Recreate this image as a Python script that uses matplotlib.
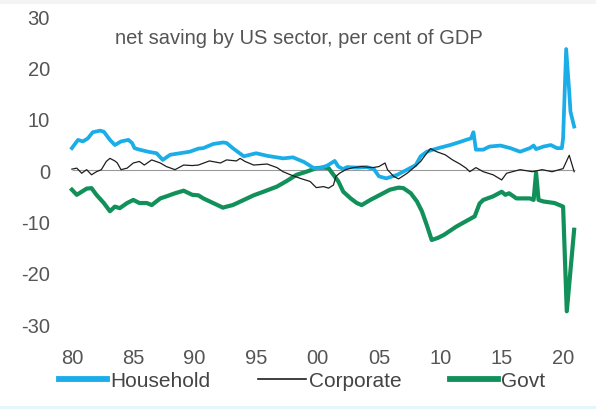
import matplotlib
matplotlib.use("Agg")
import matplotlib.pyplot as plt
from matplotlib.patches import Rectangle

plt.rcParams['font.family'] = ['Liberation Sans', 'DejaVu Sans']
plt.rcParams['axes.unicode_minus'] = False

# Net saving by US sector, per cent of GDP (time in decimal years)
household_t = [1980.0, 1980.5, 1980.9, 1981.3, 1981.7, 1982.3, 1982.6, 1983.1, 1983.5, 1984.0,
               1984.6, 1984.9, 1985.1, 1985.5, 1986.2, 1986.9, 1987.4, 1988.0, 1988.8, 1989.6,
               1990.3, 1990.7, 1991.5, 1992.3, 1992.6, 1993.1, 1994.0, 1995.0, 1995.9, 1997.2,
               1998.0, 1998.9, 1999.7, 2000.2, 2000.8, 2001.4, 2001.7, 2002.1, 2002.4, 2003.2,
               2004.0, 2004.6, 2005.0, 2005.6, 2006.5, 2007.3, 2008.0, 2008.4, 2008.9, 2009.4,
               2010.0, 2010.8, 2011.6, 2012.1, 2012.5, 2012.7, 2012.9, 2013.5, 2014.0, 2014.9,
               2015.7, 2016.5, 2017.3, 2017.6, 2017.8, 2018.4, 2019.0, 2019.5, 2019.9, 2020.0,
               2020.25, 2020.5, 2020.6, 2020.9]
household = [4.3, 5.9, 5.6, 6.2, 7.4, 7.7, 7.5, 5.9, 4.9, 5.6,
             5.9, 5.3, 4.3, 4.0, 3.6, 3.3, 2.0, 3.0, 3.3, 3.6,
             4.2, 4.3, 5.1, 5.4, 5.3, 4.3, 2.7, 3.3, 2.8, 2.3,
             2.5, 1.6, 0.4, 0.4, 0.9, 1.8, 0.7, 0.2, 0.6, 0.5,
             0.6, 0.2, -1.2, -1.6, -0.9, 0.1, 1.0, 2.7, 3.6, 4.0,
             4.4, 4.9, 5.5, 5.9, 6.2, 7.4, 4.0, 4.0, 4.6, 4.8,
             4.3, 3.6, 4.3, 4.8, 4.1, 4.6, 4.9, 4.3, 4.3, 6.2,
             23.6, 15.3, 11.4, 8.5]

corporate_t = [1980.0, 1980.4, 1980.8, 1981.2, 1981.6, 1982.0, 1982.4, 1982.8, 1983.1, 1983.5,
               1983.7, 1984.0, 1984.5, 1985.0, 1985.5, 1985.9, 1986.5, 1987.2, 1987.7, 1988.4,
               1989.1, 1989.8, 1990.3, 1991.2, 1992.1, 1992.6, 1993.4, 1993.7, 1994.1, 1994.8,
               1995.9, 1996.7, 1997.2, 1997.8, 1998.6, 1999.4, 1999.9, 2000.5, 2000.9, 2001.3,
               2001.5, 2001.8, 2002.3, 2002.9, 2003.6, 2004.5, 2005.0, 2005.5, 2005.7, 2006.2,
               2006.6, 2007.3, 2007.8, 2008.4, 2008.8, 2009.2, 2009.7, 2010.4, 2011.0, 2011.6,
               2012.1, 2012.4, 2012.9, 2013.5, 2014.3, 2015.0, 2015.4, 2016.5, 2017.5, 2018.3,
               2019.1, 2020.0, 2020.5, 2020.9]
corporate = [0.2, 0.4, -0.6, 0.1, -0.9, -0.3, 0.1, 1.7, 2.3, 1.8,
             1.4, 0.1, 0.4, 1.4, 1.7, 1.0, 2.0, 1.4, 0.7, 0.1,
             1.0, 0.9, 1.0, 1.8, 1.4, 2.0, 1.8, 2.3, 1.7, 1.0,
             1.2, 0.5, -0.3, -0.9, -1.6, -2.2, -3.4, -3.2, -3.5, -2.9,
             -1.2, -0.6, 0.1, 0.5, 0.7, 0.5, 0.7, 1.4, 0.1, -1.2,
             -1.7, -0.6, 0.4, 1.7, 3.0, 4.2, 3.6, 3.0, 2.0, 1.2,
             0.4, -0.3, 0.5, -0.3, -0.9, -1.9, -0.6, 0.1, -0.3, 0.1,
             -0.3, 0.3, 2.9, -0.3]

govt_t = [1980.0, 1980.4, 1980.8, 1981.2, 1981.6, 1982.0, 1982.6, 1983.1, 1983.5, 1983.9,
          1984.5, 1985.0, 1985.5, 1986.1, 1986.5, 1987.2, 1987.7, 1988.4, 1989.1, 1989.8,
          1990.3, 1990.7, 1991.5, 1992.3, 1992.6, 1993.1, 1994.0, 1994.8, 1995.6, 1996.7,
          1997.5, 1998.3, 1999.1, 1999.9, 2000.5, 2000.9, 2001.3, 2001.7, 2002.1, 2002.7,
          2003.2, 2003.6, 2004.3, 2005.1, 2005.9, 2006.6, 2007.0, 2007.6, 2008.1, 2008.5,
          2008.9, 2009.3, 2009.8, 2010.3, 2010.8, 2011.3, 2011.9, 2012.8, 2013.2, 2013.5,
          2014.3, 2015.0, 2015.3, 2015.6, 2016.2, 2017.3, 2017.6, 2017.8, 2018.0, 2018.4,
          2019.3, 2020.0, 2020.3, 2020.9]
govt = [-3.8, -4.8, -4.2, -3.6, -3.5, -4.8, -6.4, -8.0, -7.1, -7.4,
        -6.4, -5.8, -6.4, -6.4, -6.8, -5.5, -5.1, -4.5, -4.0, -4.8,
        -4.9, -5.5, -6.4, -7.3, -7.1, -6.8, -5.8, -4.9, -4.2, -3.2,
        -2.1, -0.9, -0.3, 0.4, 0.5, 0.4, -0.9, -2.2, -4.2, -5.5,
        -6.4, -6.8, -5.8, -4.8, -3.8, -3.4, -3.5, -4.5, -6.1, -8.0,
        -10.7, -13.6, -13.2, -12.6, -11.8, -11.0, -10.2, -9.0, -6.5, -5.8,
        -5.1, -4.2, -4.8, -4.5, -5.5, -5.5, -5.8, -0.5, -5.8, -6.1,
        -6.4, -7.1, -27.5, -11.6]

year_ticks = [1980, 1985, 1990, 1995, 2000, 2005, 2010, 2015, 2020]
year_labels = ['80', '85', '90', '95', '00', '05', '10', '15', '20']
value_ticks = [-30, -20, -10, 0, 10, 20, 30]

BLUE = '#1AADE8'
GREEN = '#12905A'
DARK = '#1E1E1E'
TEXT = '#555555'

fig = plt.figure(figsize=(5.96, 4.10), dpi=100)
ax = fig.add_axes([0.100, 0.207, 0.886, 0.751])

ax.hlines(0, 1980, 2021, color='#9A9A9A', linewidth=0.8, zorder=1)
ax.plot(govt_t, govt, color=GREEN, linewidth=3.0, solid_joinstyle='round', label='Govt', zorder=2)
ax.plot(household_t, household, color=BLUE, linewidth=2.7, solid_joinstyle='round', label='Household', zorder=3)
ax.plot(corporate_t, corporate, color=DARK, linewidth=0.9, label='Corporate', zorder=4)

ax.set_xlim(1979, 2022)
ax.set_ylim(-30, 30)
ax.set_xticks(year_ticks)
ax.set_xticklabels(year_labels)
ax.set_yticks(value_ticks)
ax.tick_params(axis='both', length=0, labelsize=14.5, labelcolor=TEXT)
ax.tick_params(axis='x', pad=17)
ax.tick_params(axis='y', pad=7)
for s in ax.spines.values():
    s.set_visible(False)

fig.text(0.502, 1 - 38 / 410, 'net saving by US sector, per cent of GDP',
         ha='center', va='center', fontsize=14.5, color=TEXT)

handles, labels = ax.get_legend_handles_labels()
order = [labels.index(n) for n in ['Household', 'Corporate', 'Govt']]
leg = fig.legend([handles[i] for i in order], [labels[i] for i in order],
                 loc='center', bbox_to_anchor=(0.507, 1 - 382 / 410), ncol=3,
                 frameon=False, fontsize=15, handlelength=2.3, handletextpad=0.15,
                 columnspacing=2.3, labelcolor='#444444')
for line, lw in zip(leg.get_lines(), [4.2, 1.2, 4.2]):
    line.set_linewidth(lw)

# faint page bands at top and bottom edges
fig.patches.append(Rectangle((0, 1 - 5 / 410), 1, 5 / 410, transform=fig.transFigure,
                             facecolor='#F4F4F4', edgecolor='none', zorder=0))
fig.patches.append(Rectangle((0, 0), 1, 3 / 410, transform=fig.transFigure,
                             facecolor='#E3F6F9', edgecolor='none', zorder=0))

fig.savefig('out.png', dpi=100)
